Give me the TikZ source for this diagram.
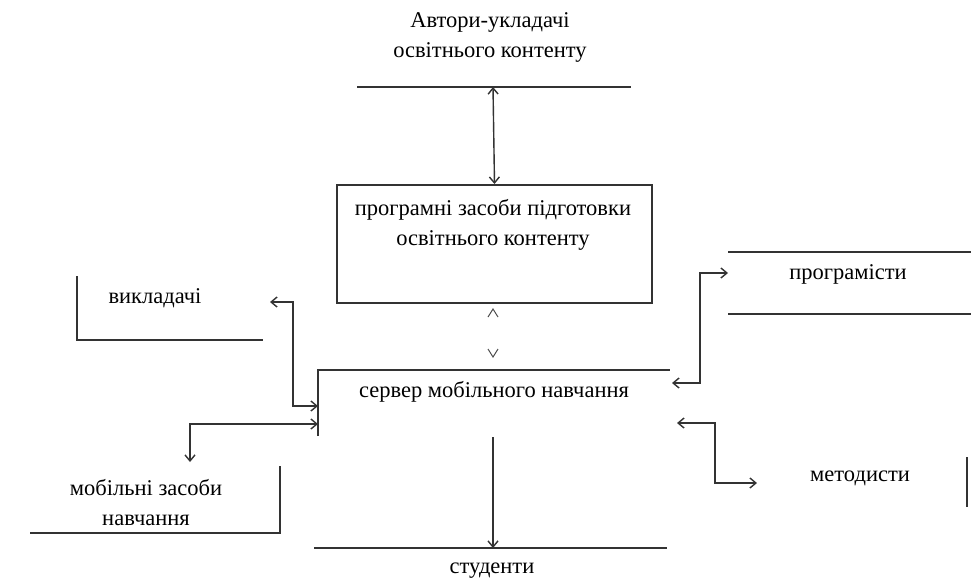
\documentclass[tikz,border=0pt]{standalone}
\usepackage{fontspec}
\setmainfont{Liberation Serif}
\usetikzlibrary{arrows.meta}
\begin{document}
\begin{tikzpicture}[x=1pt,y=-1pt,
  ln/.style={draw=black!80, line width=2pt},
  con/.style={draw=black!80, line width=1.4pt, {Straight Barb[length=6pt,width=10pt]}-{Straight Barb[length=6pt,width=10pt]}},
  one/.style={draw=black!80, line width=1.4pt, -{Straight Barb[length=6pt,width=10pt]}},
  lbl/.style={font=\fontsize{22.5}{30}\selectfont, align=center, inner sep=0pt, text=black}]
\useasboundingbox (0,0) rectangle (971,579);
% authors
\node[lbl] (auth) at (490,37) {Автори-укладачі\\освітнього контенту};
\draw[ln] (357,87) -- (631,87);
\coordinate (authb) at (493,87);
% tools box
\node[draw=black!80, line width=2pt, minimum width=315pt, minimum height=118pt, anchor=north] (prog) at (494.5,184) {};
\node[lbl] (progt) at (493,225) {програмні засоби підготовки\\освітнього контенту};
\draw[con] (authb) -- (prog.north);
% small chevrons
\coordinate (chup) at (493,309);
\coordinate (chdn) at (493,357);
\draw[draw=black!70, line width=1pt] ([shift={(-5,8)}]chup) -- (chup) -- ([shift={(5,8)}]chup);
\draw[draw=black!70, line width=1pt] ([shift={(-5,-8)}]chdn) -- (chdn) -- ([shift={(5,-8)}]chdn);
% server
\draw[ln] (318,436) -- (318,370) -- (670,370);
\node[lbl] (serv) at (494,392) {сервер мобільного навчання};
\coordinate (sL1) at (318,406);
\coordinate (sL2) at (318,424);
\coordinate (sR1) at (672,383);
\coordinate (sR2) at (677,423);
\coordinate (sB) at (493,437);
% teachers
\draw[ln] (77,276) -- (77,340) -- (263,340);
\node[lbl] (teach) at (155,298) {викладачі};
\coordinate (teachA) at (270,302);
\draw[con] (teachA) -- (293,302) -- (293,406) -- (sL1);
% mobile tools
\draw[ln] (30,533) -- (280,533) -- (280,466);
\node[lbl] (mob) at (146,503) {мобільні засоби\\навчання};
\coordinate (mobA) at (190,462);
\draw[con] (mobA) -- (190,424) -- (sL2);
% students
\draw[ln] (314,548) -- (667,548);
\coordinate (studA) at (493,548);
\node[lbl] (stud) at (492,571) {студенти};
\draw[one] (sB) -- (studA);
% programmers
\draw[ln] (728,252) -- (971,252);
\draw[ln] (728,314) -- (971,314);
\node[lbl] (progr) at (848,274) {програмісти};
\coordinate (progrA) at (728,273);
\draw[con] (sR1) -- (700,383) -- (700,273) -- (progrA);
% methodists
\node[lbl] (meth) at (860,478) {методисти};
\draw[ln] (967,457) -- (967,507);
\coordinate (methA) at (757,483);
\draw[con] (sR2) -- (715,423) -- (715,483) -- (methA);
\end{tikzpicture}
\end{document}
